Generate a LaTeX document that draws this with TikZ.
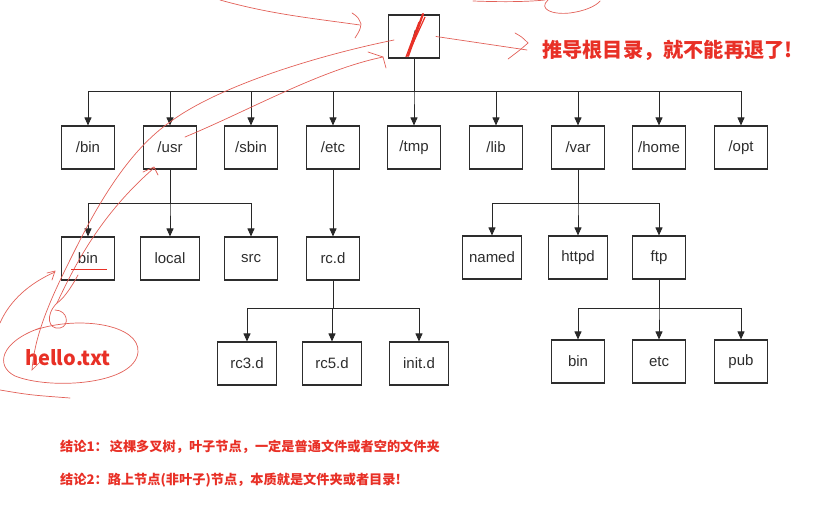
\documentclass[tikz,border=0pt]{standalone}
\usepackage{fontspec}
\newfontfamily\cjk{Noto Sans CJK SC}
\newfontfamily\dirfont{Liberation Sans}
\usetikzlibrary{arrows.meta, positioning}
\definecolor{boxc}{RGB}{45,45,45}
\definecolor{linec}{RGB}{40,40,40}
\definecolor{txtc}{RGB}{45,45,45}
\definecolor{inkc}{RGB}{232,48,38}
\definecolor{penc}{RGB}{226,96,88}

\begin{document}
\begin{tikzpicture}[x=1pt, y=-1pt]
 \tikzstyle{dir}=[rectangle, draw=boxc, line width=1.1pt, minimum width=53pt, minimum height=43pt, inner sep=0pt, font=\dirfont\fontsize{15}{17}\selectfont, text=txtc]
 \tikzstyle{wide}=[minimum width=59pt]
 \tikzstyle{link}=[draw=linec, line width=0.9pt, -{Triangle[width=7pt,length=8pt]}]
 \tikzstyle{pen}=[draw=penc, line width=0.7pt, line cap=round]
 \tikzstyle{note}=[text=inkc, inner sep=0pt, anchor=west]

 \useasboundingbox (0,0) rectangle (816,508);

 % root and first level
 \draw (414,36.5) node[dir, minimum width=51pt] (root) {/};
 \draw (88,147.5) node[dir] (bin) {/bin};
 \draw (170,147.5) node[dir] (usr) {/usr};
 \draw (251,147.5) node[dir] (sbin) {/sbin};
 \draw (333,147.5) node[dir] (etc) {/etc};
 \draw (414,147.5) node[dir] (tmp) {/tmp};
 \draw (496,147.5) node[dir] (lib) {/lib};
 \draw (578,147.5) node[dir] (var) {/var};
 \draw (659,147.5) node[dir] (home) {/home};
 \draw (741,147.5) node[dir] (opt) {/opt};

 % second level
 \draw (88,258.5) node[dir] (usrbin) {bin};
 \draw (170,258.5) node[dir, wide] (local) {local};
 \draw (251,258.5) node[dir] (src) {src};
 \draw (333,258.5) node[dir] (rcd) {rc.d};
 \draw (492,257.5) node[dir, wide] (named) {named};
 \draw (578,257.5) node[dir, wide] (httpd) {httpd};
 \draw (659,257.5) node[dir] (ftp) {ftp};

 % third level
 \draw (247,363.5) node[dir, wide] (rcthree) {rc3.d};
 \draw (332,363.5) node[dir, wide] (rcfive) {rc5.d};
 \draw (419,363.5) node[dir, wide] (initd) {init.d};
 \draw (578,361.5) node[dir] (ftpbin) {bin};
 \draw (659,361.5) node[dir] (ftpetc) {etc};
 \draw (741,361.5) node[dir] (pub) {pub};

 \coordinate (b0) at (414,91);
 \coordinate (b1) at (170,203);
 \coordinate (b2) at (578,203);
 \coordinate (b3) at (333,308);
 \coordinate (b4) at (659,308);

 \path [link] (root.south) -- (b0) -| (bin.north);
 \path [link] (root.south) -- (b0) -| (usr.north);
 \path [link] (root.south) -- (b0) -| (sbin.north);
 \path [link] (root.south) -- (b0) -| (etc.north);
 \path [link] (root.south) -- (b0) -| (tmp.north);
 \path [link] (root.south) -- (b0) -| (lib.north);
 \path [link] (root.south) -- (b0) -| (var.north);
 \path [link] (root.south) -- (b0) -| (home.north);
 \path [link] (root.south) -- (b0) -| (opt.north);

 \path [link] (usr.south) -- (b1) -| (usrbin.north);
 \path [link] (usr.south) -- (b1) -| (local.north);
 \path [link] (usr.south) -- (b1) -| (src.north);
 \path [link] (etc.south) -- (rcd.north);
 \path [link] (var.south) -- (b2) -| (named.north);
 \path [link] (var.south) -- (b2) -| (httpd.north);
 \path [link] (var.south) -- (b2) -| (ftp.north);

 \path [link] (rcd.south) -- (b3) -| (rcthree.north);
 \path [link] (rcd.south) -- (b3) -| (rcfive.north);
 \path [link] (rcd.south) -- (b3) -| (initd.north);
 \path [link] (ftp.south) -- (b4) -| (ftpbin.north);
 \path [link] (ftp.south) -- (b4) -| (ftpetc.north);
 \path [link] (ftp.south) -- (b4) -| (pub.north);

 % red notes
 \draw (542,50) node[note, font=\cjk\bfseries\fontsize{20.2}{22}\selectfont] (head) {推导根目录，就不能再退了!};
 \draw (25,358) node[note, font=\cjk\bfseries\fontsize{20}{22}\selectfont] (hello) {hello.txt};
 \draw (60,447) node[note, font=\cjk\bfseries\fontsize{13.2}{16}\selectfont] (endone) {结论1：\hspace{2pt}这棵多叉树，叶子节点，一定是普通文件或者空的文件夹};
 \draw (60,480) node[note, font=\cjk\bfseries\fontsize{13.2}{16}\selectfont] (endtwo) {结论2：路上节点(非叶子)节点，本质就是文件夹或者目录!};

 % scribbles on the slide
 \draw [draw=inkc, line width=2.2pt, line cap=round] (408,56) -- (423,14);
 \draw [draw=inkc, line width=1.2pt] (410,50) -- (425,17) (406,57) -- (419,22);
 \draw [pen] ([xshift=-4pt]root.east) -- ([xshift=-15pt]head.west);
 \draw [pen] (515,33) .. controls (522,37) .. (528,43) .. controls (520,50) .. (508,59);
 \draw [pen] (473,1) .. controls (500,2) and (525,2) .. (545,0);
 \draw [pen] (548,0) .. controls (538,9) and (552,15) .. (570,13) .. controls (585,11) and (596,6) .. (600,1);
 \draw [pen] (220,0) .. controls (270,14) and (310,18) .. (360,25);
 \draw [pen] (352,13) .. controls (358,17) .. (361,24) .. controls (360,30) .. (355,38);
 \draw [pen] (394,40) .. controls (320,55) and (220,85) .. (170,122) .. controls (130,150) and (100,200) .. (75,250) .. controls (55,290) and (35,330) .. (32,370) -- (40,362);
 \draw [pen] (185,137) .. controls (250,110) and (320,70) .. (383,57);
 \draw [pen] (368,52) -- (383,57) -- (386,68);
 \draw [pen] (57,303) .. controls (75,265) and (100,215) .. (154,168);
 \draw [pen] (143,172) -- (154,167) -- (158,175);
 \draw [pen] (57,303) .. controls (45,315) and (48,330) .. (60,328) .. controls (70,326) and (68,310) .. (55,310);
 \draw [pen] (0,323) .. controls (10,300) and (30,283) .. (55,272);
 \draw [pen] (47,273) -- (55,271) -- (52,280);
 \draw [pen] (78,275) .. controls (70,290) and (62,300) .. (57,303);
 \draw [pen] (35,330) .. controls (80,315) and (140,325) .. (138,352) .. controls (135,385) and (50,390) .. (15,376) .. controls (-5,366) and (0,342) .. (40,328);
 \draw [pen] (0,390) .. controls (30,395) .. (70,398);
 \draw [draw=inkc, line width=0.8pt] (71,269) -- (107,269);
\end{tikzpicture}
\end{document}
